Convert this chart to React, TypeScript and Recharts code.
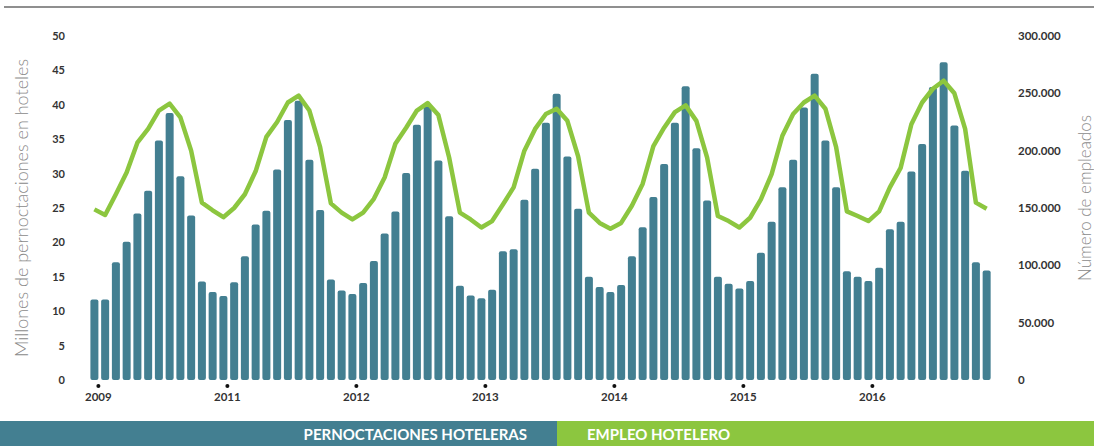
import React from 'react';
import { ComposedChart, Bar, Line, XAxis, YAxis, Legend } from 'recharts';

const yearLabels = ['2009', '2011', '2012', '2013', '2014', '2015', '2016'];
const monthNames = ['ene', 'feb', 'mar', 'abr', 'may', 'jun', 'jul', 'ago', 'sep', 'oct', 'nov', 'dic'];

// Millones de pernoctaciones (mensual)
const pernoctaciones = [
  11.7, 11.7, 17.1, 20.1, 24.2, 27.5, 34.8, 38.8, 29.6, 23.9, 14.3, 12.8,
  12.2, 14.2, 18.0, 22.6, 24.6, 30.6, 37.8, 40.6, 32.0, 24.7, 14.6, 13.0,
  12.5, 14.1, 17.3, 21.3, 24.5, 30.1, 37.1, 39.7, 31.9, 23.8, 13.7, 12.3,
  11.9, 13.1, 18.7, 19.0, 26.2, 30.7, 37.4, 41.6, 32.5, 24.9, 15.0, 13.5,
  12.8, 13.8, 18.0, 22.2, 26.6, 31.4, 37.4, 42.7, 33.7, 26.1, 15.0, 14.0,
  13.3, 14.4, 18.5, 23.0, 28.0, 32.0, 39.6, 44.5, 34.8, 28.0, 15.8, 15.0,
  14.4, 16.3, 21.9, 23.0, 30.3, 34.3, 42.6, 46.2, 37.0, 30.4, 17.1, 15.9,
];

// Empleo hotelero (miles de empleados)
const empleoMiles = [
  148.8, 143.9, 162, 181, 207, 219, 235, 241, 229, 200, 154.7, 148,
  142, 150, 162, 182, 212, 225, 242, 248, 235, 203, 154, 146,
  140, 146, 158, 176.6, 206, 220, 235, 241.5, 231, 194, 146, 140,
  133, 138.6, 153, 168, 200, 219, 232, 236.6, 226, 195, 146, 137,
  132, 137, 152, 171, 204, 220, 233.6, 239.5, 226, 194, 143, 138.6,
  133, 141.5, 157.6, 179.6, 213, 232, 242, 248, 236.6, 203, 147, 143,
  138.6, 147, 168, 185, 223, 242, 254, 261, 250, 219, 154.7, 149.4,
];

const leftTicks = [0, 5, 10, 15, 20, 25, 30, 35, 40, 45, 50];
const rightTicks = [0, 50000, 100000, 150000, 200000, 250000, 300000];

const data = pernoctaciones.map((v, i) => ({
  mes: `${monthNames[i % 12]} ${yearLabels[Math.floor(i / 12)]}`,
  pernoctaciones: v,
  empleo: empleoMiles[i] * 1000,
}));

const TEAL = '#437f91';
const GREEN = '#8cc63f';
const FONT = 'Lato, "Open Sans", sans-serif';

const fmtMiles = (v: number) => String(v).replace(/\B(?=(\d{3})+(?!\d))/g, '.');

const YearTick = (props: any) => {
  const { x, y, payload } = props;
  const year = String(payload.value).split(' ')[1];
  return (
    <g transform={`translate(${x + 4},${y})`}>
      <circle cx={0} cy={6} r={2} fill="#111" />
      <text x={0} y={21} textAnchor="middle" fontFamily={FONT} fontWeight={700} fontSize={11.5} fill="#333">
        {year}
      </text>
    </g>
  );
};

const LegendBand = () => (
  <div style={{ display: 'flex', width: 1094, height: 25, fontFamily: FONT, fontWeight: 700, fontSize: 15, color: '#fff' }}>
    <div style={{ width: 557, background: TEAL, display: 'flex', alignItems: 'center', justifyContent: 'flex-end', paddingRight: 30, boxSizing: 'border-box' }}>
      PERNOCTACIONES HOTELERAS
    </div>
    <div style={{ flex: 1, background: GREEN, display: 'flex', alignItems: 'center', paddingLeft: 30, boxSizing: 'border-box' }}>
      EMPLEO HOTELERO
    </div>
  </div>
);

export default function App() {
  return (
    <div style={{ position: 'absolute', left: 0, top: 0, width: 1094, height: 446, background: '#fff', overflow: 'hidden' }}>
      <div style={{ position: 'absolute', left: 4, right: 0, top: 6, height: 2, background: '#8f8f8f' }} />
      <ComposedChart
        width={1094}
        height={446}
        data={data}
        margin={{ top: 36, right: 42, bottom: 11, left: 39 }}
        barCategoryGap="13%"
      >
        <XAxis
          dataKey="mes"
          interval={11}
          tick={<YearTick />}
          tickLine={false}
          axisLine={false}
          tickSize={0}
          tickMargin={0}
          height={30}
        />
        <YAxis
          yAxisId="left"
          orientation="left"
          domain={[0, 50]}
          ticks={leftTicks}
          width={50}
          tickLine={false}
          axisLine={false}
          tickSize={0}
          tickMargin={24}
          tick={{ fontFamily: FONT, fontWeight: 700, fontSize: 11, fill: '#333' }}
          label={{
            value: 'Millones de pernoctaciones en hoteles',
            angle: -90,
            position: 'center',
            dx: -42,
            style: { fontFamily: FONT, fontSize: 18, fill: '#8a8a8a', fontWeight: 300 },
          }}
        />
        <YAxis
          yAxisId="right"
          orientation="right"
          domain={[0, 300000]}
          ticks={rightTicks}
          width={60}
          tickLine={false}
          axisLine={false}
          tickSize={0}
          tickMargin={26}
          tickFormatter={fmtMiles}
          tick={{ fontFamily: FONT, fontWeight: 700, fontSize: 11.5, fill: '#333', textAnchor: 'start' }}
          label={{
            value: 'Número de empleados',
            angle: -90,
            position: 'center',
            dx: 63,
            dy: -10,
            style: { fontFamily: FONT, fontSize: 17, fill: '#8a8a8a', fontWeight: 300 },
          }}
        />
        <Legend
          verticalAlign="bottom"
          content={<LegendBand />}
          wrapperStyle={{ left: 0, top: 421, width: 1094, height: 25 }}
        />
        <Bar
          yAxisId="left"
          dataKey="pernoctaciones"
          name="PERNOCTACIONES HOTELERAS"
          fill={TEAL}
          radius={2}
          isAnimationActive={false}
        />
        <Line
          yAxisId="right"
          dataKey="empleo"
          name="EMPLEO HOTELERO"
          type="linear"
          stroke={GREEN}
          strokeWidth={4.5}
          strokeLinejoin="round"
          dot={false}
          activeDot={false}
          isAnimationActive={false}
        />
      </ComposedChart>
    </div>
  );
}
